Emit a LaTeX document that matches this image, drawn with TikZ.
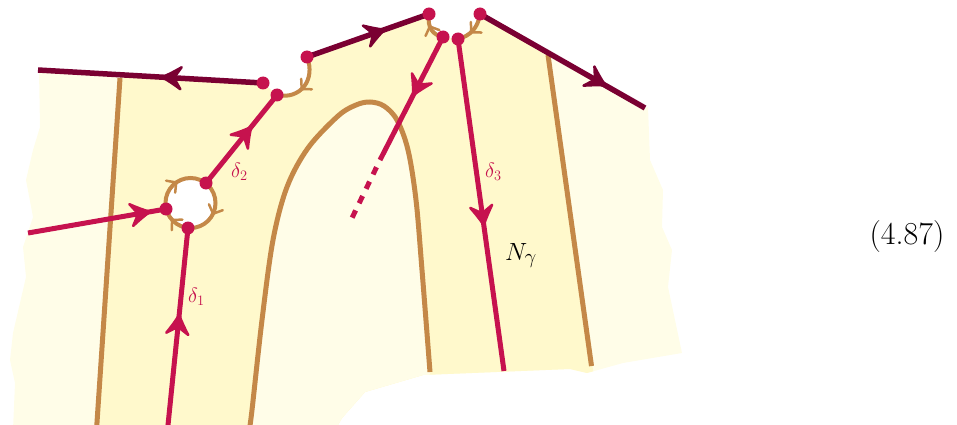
\documentclass[tikz,border=0pt]{standalone}
\usetikzlibrary{decorations.markings}
\definecolor{crim}{RGB}{198,18,78}
\definecolor{wine}{RGB}{122,0,50}
\definecolor{ochre}{RGB}{196,136,72}
\definecolor{paleY}{RGB}{255,253,232}
\definecolor{bandY}{RGB}{255,249,204}
\newcommand\bighead[1]{\filldraw[#1, line width=2.5pt, line join=round, line cap=round] (2,0) .. controls (-4,2.8) and (-11,7) .. (-17,11) -- (-10,0) -- (-17,-11) .. controls (-11,-7) and (-4,-2.8) .. (2,0) -- cycle;}
\newcommand\smallhead{\draw[ochre, line width=2.5pt, line cap=round, line join=round] (-6,7.5) .. controls (-2.5,3) .. (1,0) .. controls (-2.5,-3) .. (-6,-7.5);}
\tikzset{
  crimline/.style={draw=crim, line width=5pt},
  wineline/.style={draw=wine, line width=5.5pt},
  ochreline/.style={draw=ochre, line width=5pt},
  ochrethin/.style={draw=ochre, line width=4pt},
  arr/.style 2 args={decoration={markings, mark=at position #1 with {\bighead{#2}}}, postaction=decorate},
  sarr/.style={decoration={markings, mark=at position #1 with {\smallhead}}, postaction=decorate},
  dot/.style={fill=crim},
  lab/.style={inner sep=0pt, anchor=base west, text=crim, font=\fontsize{22}{26}\selectfont},
}
\def\sheet{(39,70) -- (263,83) -- (277,95) .. controls (300,100) and (316,80) .. (307,57) -- (429,14) .. controls (427,28) and (433,35) .. (443,37) -- (458,39) .. controls (470,36) and (478,28) .. (480,14) -- (645,108) -- (648,107) -- (650,160) -- (663,190) -- (662,227) -- (672,250) -- (668,287) -- (682,353) -- (623,363) -- (587,373) -- (570,369) -- (423,375) -- (365,392) -- (342,418) -- (335,430) -- (13,430) -- (15,383) -- (10,360) -- (13,333) -- (26,277) -- (23,247) -- (33,217) -- (26,180) -- (33,150) -- (40,127) -- cycle}
\def\archpts{(249,432) (252,410) (262,320) (273,240) (287,187) (308,148) (338,116) (356,105) (370,102) (384,106) (397,120) (408,150) (416,200) (422,270) (430,372)}
\begin{document}
\begin{tikzpicture}[x=1pt,y=-1pt]
\useasboundingbox (0,0) rectangle (957,425);
% named points
\coordinate (a1) at (38,70);
\coordinate (a2) at (263,83);
\coordinate (c1) at (277,95);
\coordinate (b1) at (307,57);
\coordinate (b2) at (429,14);
\coordinate (c2) at (443,37);
\coordinate (c3) at (458,39);
\coordinate (d1) at (480,14);
\coordinate (d2) at (645,108);
\coordinate (ring) at (190.5,203);
\coordinate (e1) at (166,209);
\coordinate (e2) at (206,183);
\coordinate (e3) at (188,228);
\coordinate (f1) at (28,233);
\coordinate (g1) at (167.5,430);
\coordinate (h) at (380,160);
\coordinate (h2) at (352,218);
\coordinate (k) at (504,371);
\coordinate (l1a) at (120,78);
\coordinate (l1b) at (96.5,430);
\coordinate (l2a) at (548,55);
\coordinate (l2b) at (591.5,366);
% sheet
\fill[paleY] \sheet;
\begin{scope}
  \clip \sheet;
  \fill[bandY] (125,-5) -- (96,432) -- (602,432) -- (539,-5) -- cycle;
  \fill[paleY] plot[smooth, tension=0.55] coordinates {\archpts (431,432)} -- cycle;
\end{scope}
\fill[white] (ring) circle[radius=25];
% ochre lines
\draw[ochreline] (l1a) -- (l1b);
\draw[ochreline] (l2a) -- (l2b);
\draw[ochreline] plot[smooth, tension=0.55] coordinates {\archpts};
\draw[ochrethin, decoration={markings,
   mark=at position 0.064 with {\smallhead},
   mark=at position 0.375 with {\smallhead},
   mark=at position 0.647 with {\smallhead}}, postaction=decorate] (ring) circle[radius=25];
\draw[ochrethin, sarr=0.55] (b1) .. controls (316,80) and (300,100) .. (c1);
\draw[ochrethin, sarr=0.55] (c2) .. controls (433,35) and (427,28) .. (b2);
\draw[ochrethin, sarr=0.55] (d1) .. controls (478,28) and (470,36) .. (c3);
% wine lines
\draw[wineline, arr={0.44}{wine}] (a2) -- (a1);
\draw[wineline, arr={0.62}{wine}] (b1) -- (b2);
\draw[wineline, arr={0.75}{wine}] (d1) -- (d2);
% crimson lines
\draw[crimline, arr={0.87}{crim}] (f1) -- (e1);
\draw[crimline, arr={0.56}{crim}] (g1) -- (e3);
\draw[crimline, arr={0.62}{crim}] (e2) -- (c1);
\draw[crimline, arr={0.46}{crim}] (c2) -- (h);
\draw[crimline, dash pattern=on 8pt off 8pt, dash phase=8pt] (h) -- (h2);
\draw[crimline, arr={0.555}{crim}] (c3) -- (k);
% dots
\foreach \p in {a2,c1,b1,b2,c2,c3,d1,e1,e2,e3} \fill[dot] (\p) circle[radius=6.5];
% labels
\node[lab] (L1) at (188,302) {$\delta_1$};
\node[lab] (L2) at (231,177) {$\delta_2$};
\node[lab] (L3) at (485,177) {$\delta_3$};
\node[inner sep=0pt, anchor=base west, font=\fontsize{31}{36}\selectfont] (N) at (505,260) {$N_\gamma$};
\node[inner sep=0pt, font=\fontsize{32}{38}\selectfont] (eq) at (907,237) {(4.87)};
\end{tikzpicture}
\end{document}
